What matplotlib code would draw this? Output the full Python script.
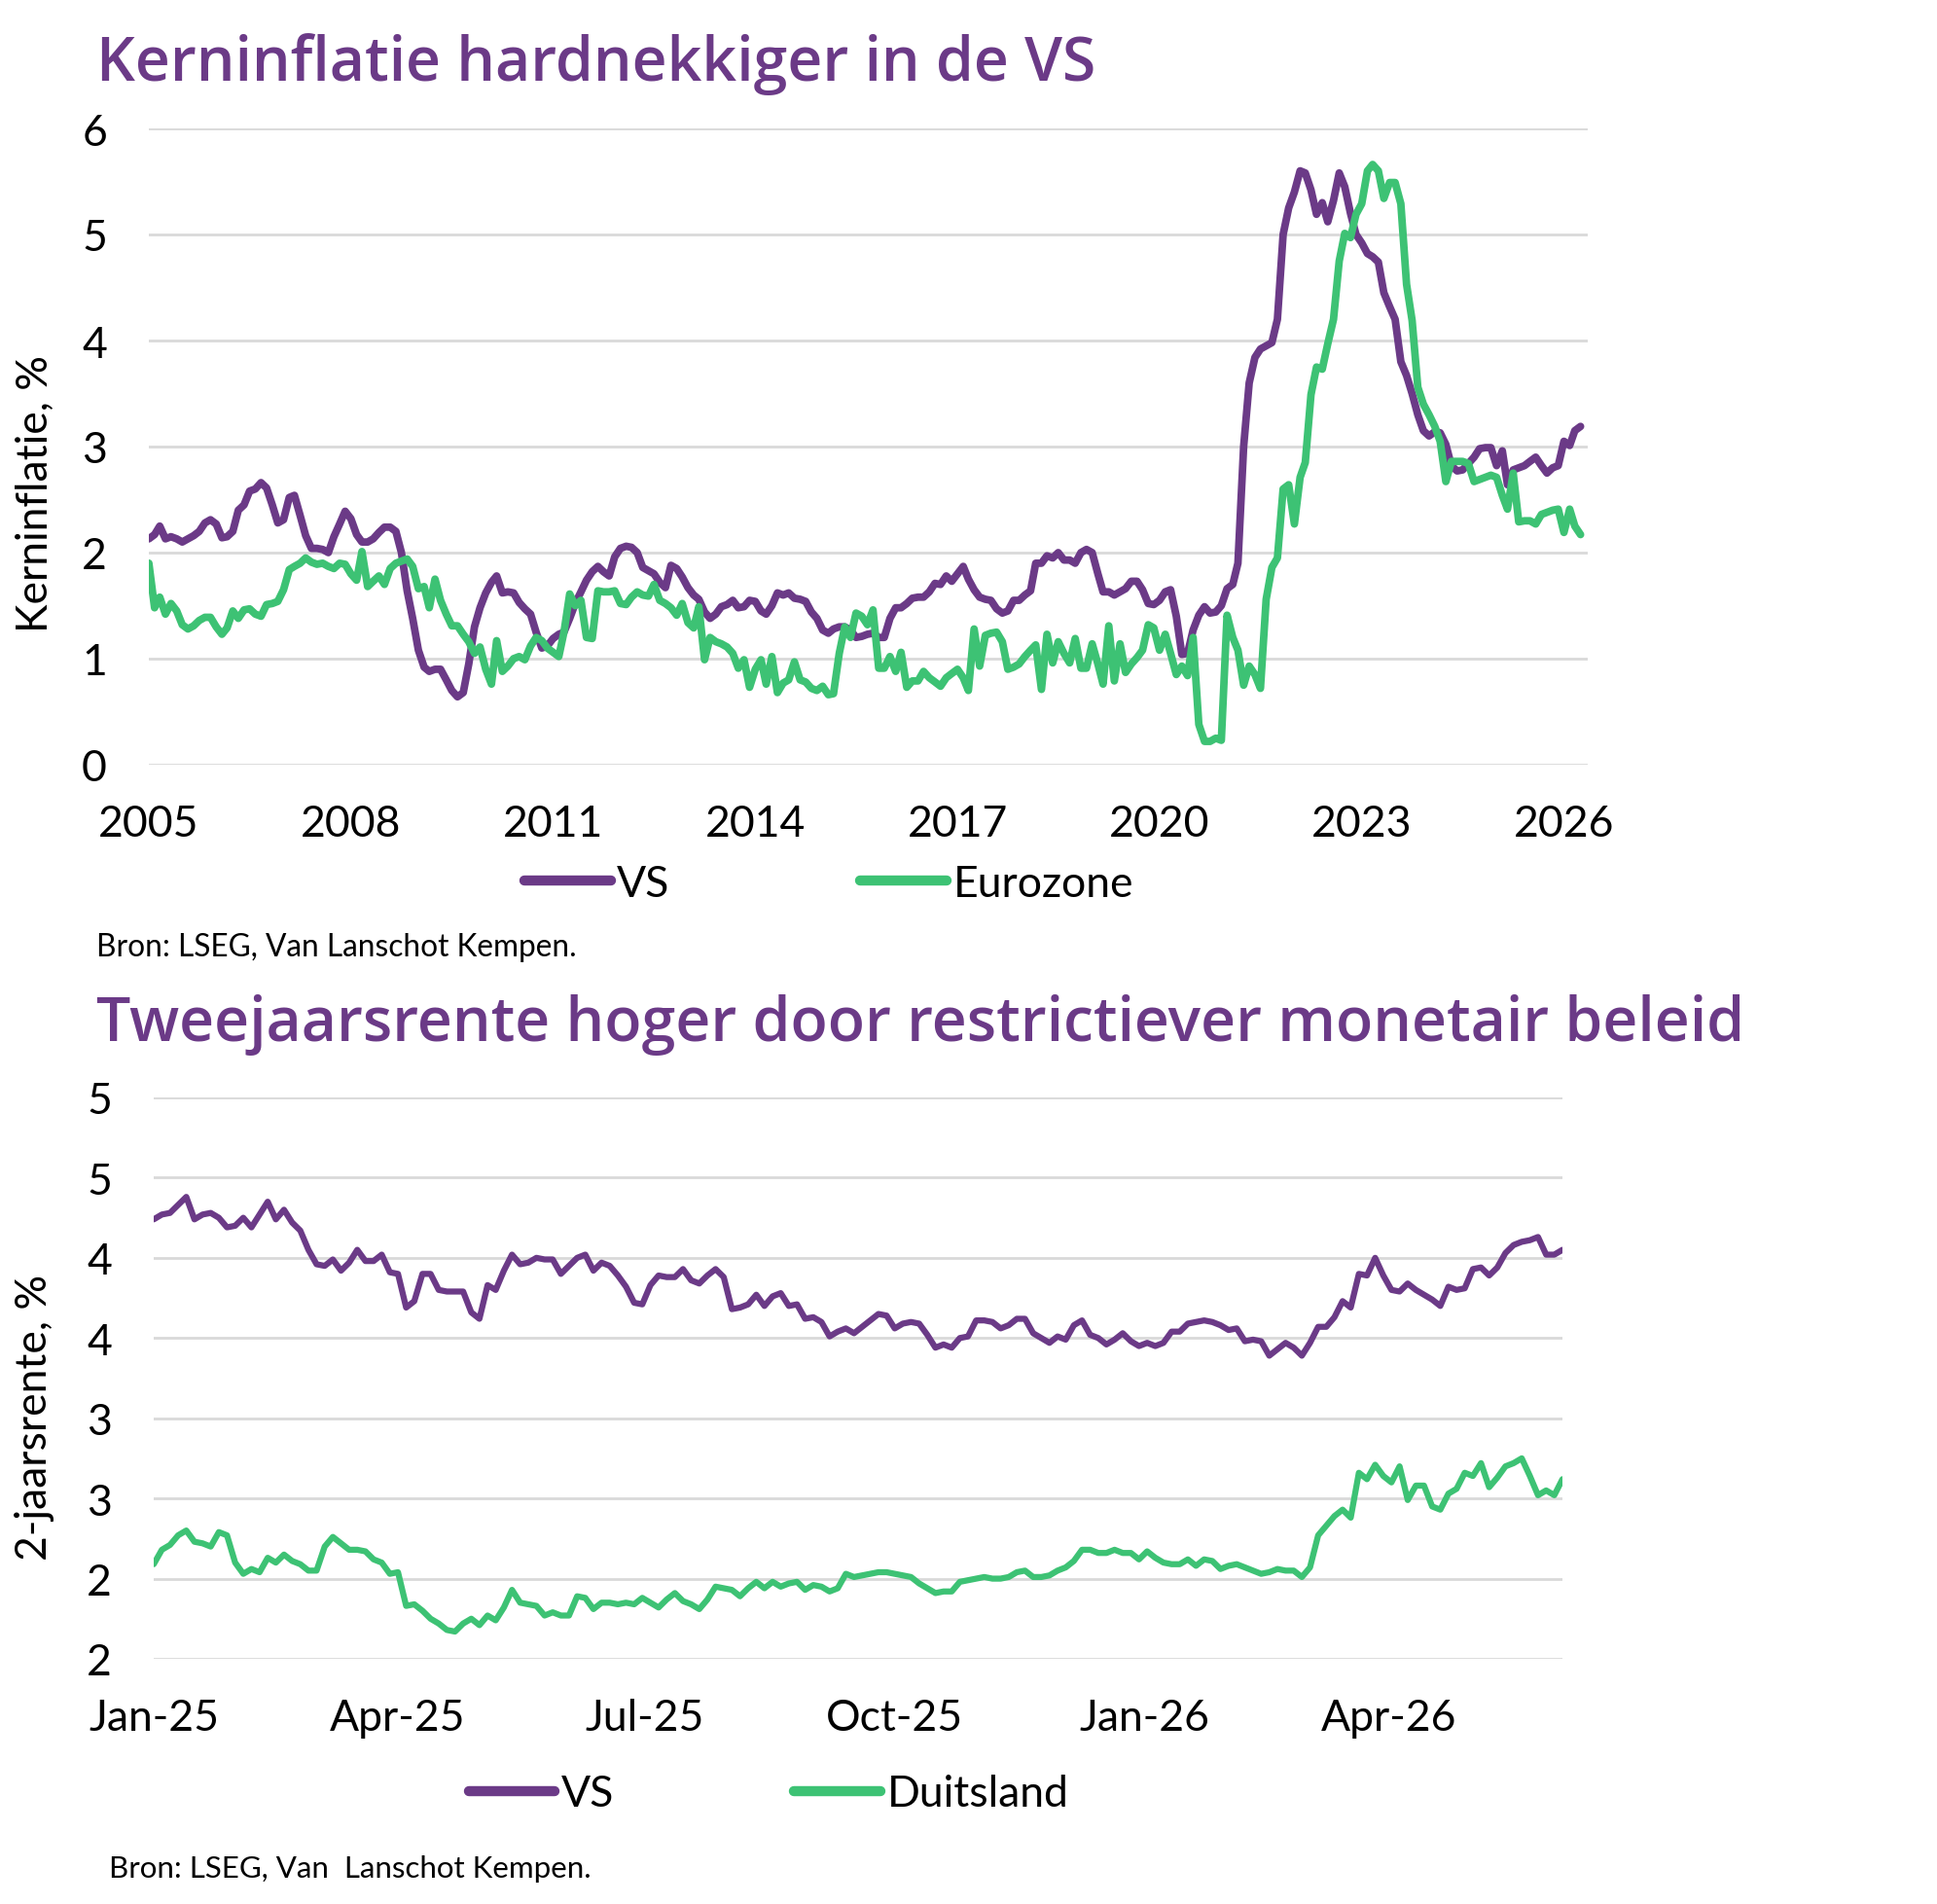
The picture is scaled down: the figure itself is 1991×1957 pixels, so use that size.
import matplotlib
matplotlib.use('Agg')
import matplotlib.pyplot as plt
from matplotlib.lines import Line2D
from matplotlib.ticker import FuncFormatter
import numpy as np
import pandas as pd

plt.rcParams['font.family'] = ['Lato', 'DejaVu Sans']

PAARS = '#6B3A87'
GROEN = '#3DC274'
GRIJS = '#D9D9D9'

#%% kerninflatie, maandelijks vanaf jan 2005 (%)
kern_vs = [
    2.13, 2.17, 2.25, 2.13, 2.15, 2.13, 2.10, 2.13, 2.16, 2.20, 2.28, 2.31, 2.27, 2.14, 2.15, 2.20,
    2.40, 2.45, 2.58, 2.60, 2.66, 2.61, 2.45, 2.28, 2.31, 2.52, 2.54, 2.35, 2.16, 2.04, 2.04, 2.03,
    2.00, 2.15, 2.27, 2.39, 2.32, 2.17, 2.10, 2.10, 2.13, 2.19, 2.24, 2.24, 2.20, 2.00, 1.64, 1.38,
    1.08, 0.92, 0.88, 0.90, 0.90, 0.80, 0.70, 0.64, 0.68, 0.95, 1.30, 1.48, 1.62, 1.72, 1.78, 1.62,
    1.63, 1.62, 1.53, 1.47, 1.42, 1.25, 1.10, 1.12, 1.19, 1.23, 1.25, 1.38, 1.52, 1.63, 1.74, 1.82,
    1.87, 1.82, 1.78, 1.96, 2.04, 2.06, 2.05, 2.00, 1.86, 1.83, 1.80, 1.72, 1.67, 1.88, 1.85, 1.77,
    1.67, 1.60, 1.56, 1.44, 1.38, 1.42, 1.49, 1.51, 1.55, 1.48, 1.49, 1.55, 1.54, 1.45, 1.42, 1.50,
    1.62, 1.60, 1.62, 1.57, 1.56, 1.54, 1.44, 1.38, 1.27, 1.24, 1.28, 1.30, 1.30, 1.27,
    1.20, 1.21, 1.23, 1.24, 1.20, 1.20, 1.38, 1.48, 1.48, 1.52, 1.57, 1.58, 1.58, 1.63, 1.71, 1.70,
    1.78, 1.73, 1.80, 1.87, 1.75, 1.65, 1.58, 1.56, 1.55, 1.47, 1.43, 1.45, 1.55, 1.55, 1.60, 1.64,
    1.90, 1.90, 1.97, 1.95, 2.00, 1.93, 1.93, 1.90, 2.00, 2.03, 2.00, 1.80, 1.63, 1.63, 1.60, 1.63,
    1.66, 1.73, 1.73, 1.65, 1.52, 1.51, 1.55, 1.63, 1.65, 1.40, 1.04, 1.05, 1.27, 1.41, 1.49,
    1.43, 1.44, 1.50, 1.66, 1.70, 1.90, 3.00, 3.60, 3.84, 3.92, 3.95, 3.98, 4.20, 5.00, 5.25, 5.40,
    5.60, 5.58, 5.42, 5.19, 5.30, 5.12, 5.32, 5.58, 5.45, 5.20, 5.00, 4.92, 4.82, 4.79, 4.74, 4.45,
    4.32, 4.20, 3.80, 3.67, 3.50, 3.30, 3.15, 3.10, 3.14, 3.13, 3.02, 2.82, 2.77, 2.78, 2.84, 2.90,
    2.98, 2.99, 2.99, 2.82, 2.96, 2.64, 2.78, 2.80, 2.82, 2.86, 2.90, 2.82, 2.75, 2.80, 2.82, 3.05,
    3.01, 3.15, 3.19,
]
kern_ez = [
    1.90, 1.48, 1.58, 1.42, 1.52, 1.45, 1.32, 1.28, 1.31, 1.36, 1.39, 1.39, 1.30, 1.23, 1.29, 1.45,
    1.38, 1.46, 1.47, 1.42, 1.40, 1.51, 1.52, 1.54, 1.65, 1.84, 1.87, 1.90, 1.95, 1.91, 1.89, 1.90,
    1.87, 1.85, 1.90, 1.89, 1.80, 1.74, 2.01, 1.68, 1.73, 1.78, 1.70, 1.85, 1.90, 1.92, 1.94, 1.87,
    1.66, 1.68, 1.48, 1.75, 1.55, 1.42, 1.31, 1.31, 1.23, 1.16, 1.05, 1.11, 0.90, 0.76, 1.17, 0.88,
    0.93, 1.00, 1.02, 0.99, 1.12, 1.20, 1.17, 1.10, 1.06, 1.02, 1.25, 1.61, 1.50, 1.55, 1.20, 1.19,
    1.64, 1.63, 1.63, 1.64, 1.52, 1.51, 1.58, 1.63, 1.60, 1.59, 1.70, 1.55, 1.52, 1.48, 1.41, 1.52,
    1.34, 1.29, 1.49, 0.99, 1.20, 1.16, 1.14, 1.11, 1.05, 0.91, 0.99, 0.73, 0.90, 0.99, 0.76, 1.02,
    0.68, 0.77, 0.80, 0.97, 0.80, 0.78, 0.72, 0.70, 0.74, 0.66,
    0.67, 1.05, 1.30, 1.20, 1.43, 1.40, 1.32, 1.46, 0.91, 0.91, 1.02, 0.88, 1.06, 0.73, 0.79, 0.79,
    0.88, 0.82, 0.78, 0.74, 0.82, 0.86, 0.90, 0.82, 0.70, 1.28, 0.93, 1.22, 1.24, 1.25, 1.16, 0.90,
    0.92, 0.95, 1.02, 1.08, 1.13, 0.71, 1.23, 0.96, 1.16, 1.05, 0.96, 1.19, 0.91, 0.91, 1.14, 0.95,
    0.76, 1.31, 0.79, 1.14, 0.87, 0.95, 1.01, 1.08, 1.32, 1.29, 1.08, 1.23, 1.05, 0.85, 0.93, 0.84,
    1.20, 0.38, 0.22,
    0.22, 0.25, 0.23, 1.41, 1.20, 1.08, 0.75, 0.93, 0.85, 0.72, 1.56, 1.86, 1.95, 2.60, 2.64, 2.27,
    2.71, 2.85, 3.49, 3.75, 3.73, 3.97, 4.20, 4.75, 5.01, 4.97, 5.19, 5.29, 5.60, 5.66, 5.60, 5.34,
    5.49, 5.49, 5.29, 4.53, 4.19, 3.56, 3.40, 3.30, 3.19, 3.05, 2.67, 2.86, 2.86, 2.86, 2.84, 2.67,
    2.69, 2.71, 2.73, 2.71, 2.54, 2.41, 2.75, 2.29, 2.30, 2.30, 2.27, 2.36, 2.38, 2.40, 2.41, 2.19,
    2.41, 2.25, 2.17,
]
jaar_ticks = [2005, 2008, 2011, 2014, 2017, 2020, 2023, 2026]

#%% tweejaarsrente, elke 3 dagen vanaf 1 jan 2025 (%)
rente_vs = [
    4.24, 4.27, 4.28, 4.33, 4.38, 4.24, 4.27, 4.28, 4.25, 4.19,
    4.20, 4.25, 4.19, 4.27, 4.35, 4.24, 4.30, 4.22, 4.17, 4.05,
    3.96, 3.95, 3.99, 3.92, 3.97, 4.05, 3.98, 3.98, 4.02, 3.91,
    3.90, 3.69, 3.73, 3.90, 3.90, 3.80, 3.79, 3.79, 3.79, 3.66,
    3.62, 3.83, 3.80, 3.92, 4.02, 3.96, 3.97, 4.00, 3.99, 3.99,
    3.90, 3.95, 4.00, 4.02, 3.92, 3.97, 3.95, 3.89, 3.82, 3.72,
    3.71, 3.83, 3.89, 3.88, 3.88, 3.93, 3.86, 3.84, 3.89, 3.93,
    3.88, 3.68, 3.69, 3.71, 3.77, 3.70, 3.76, 3.78, 3.70, 3.71,
    3.62, 3.63, 3.60, 3.51, 3.54, 3.56, 3.53, 3.57, 3.61, 3.65,
    3.64, 3.56, 3.59, 3.60, 3.59, 3.52, 3.44, 3.46, 3.44, 3.50,
    3.51, 3.61, 3.61, 3.60, 3.56, 3.58, 3.62, 3.62, 3.53, 3.50,
    3.47, 3.51, 3.49, 3.58, 3.61, 3.52, 3.50, 3.46, 3.49, 3.53,
    3.48, 3.45, 3.47, 3.45, 3.47, 3.54, 3.54, 3.59, 3.60, 3.61,
    3.60, 3.58, 3.55, 3.56, 3.48, 3.49, 3.48, 3.39, 3.43, 3.47,
    3.44, 3.39, 3.47, 3.57, 3.57, 3.63, 3.73, 3.69, 3.90, 3.89,
    4.00, 3.89, 3.80, 3.79, 3.84, 3.80, 3.77, 3.74, 3.70, 3.82,
    3.80, 3.81, 3.93, 3.94, 3.89, 3.94, 4.03, 4.08, 4.10, 4.11,
    4.13, 4.02, 4.02, 4.05,
]
rente_de = [
    2.09, 2.18, 2.21, 2.27, 2.30, 2.23, 2.22, 2.20, 2.29, 2.27,
    2.10, 2.03, 2.06, 2.04, 2.13, 2.10, 2.15, 2.11, 2.09, 2.05,
    2.05, 2.20, 2.26, 2.22, 2.18, 2.18, 2.17, 2.12, 2.10, 2.03,
    2.04, 1.83, 1.84, 1.80, 1.75, 1.72, 1.68, 1.67, 1.72, 1.75,
    1.71, 1.77, 1.74, 1.82, 1.93, 1.85, 1.84, 1.83, 1.77, 1.79,
    1.77, 1.77, 1.89, 1.88, 1.81, 1.85, 1.85, 1.84, 1.85, 1.84,
    1.88, 1.85, 1.82, 1.87, 1.91, 1.86, 1.84, 1.81, 1.87, 1.95,
    1.94, 1.93, 1.89, 1.94, 1.98, 1.94, 1.98, 1.95, 1.97, 1.98,
    1.93, 1.96, 1.95, 1.92, 1.94, 2.03, 2.01, 2.02, 2.03, 2.04,
    2.04, 2.03, 2.02, 2.01, 1.97, 1.94, 1.91, 1.92, 1.92, 1.98,
    1.99, 2.00, 2.01, 2.00, 2.00, 2.01, 2.04, 2.05, 2.01, 2.01,
    2.02, 2.05, 2.07, 2.11, 2.18, 2.18, 2.16, 2.16, 2.18, 2.16,
    2.16, 2.12, 2.17, 2.13, 2.10, 2.09, 2.09, 2.12, 2.08, 2.12,
    2.11, 2.06, 2.08, 2.09, 2.07, 2.05, 2.03, 2.04, 2.06, 2.05,
    2.05, 2.01, 2.07, 2.27, 2.33, 2.39, 2.43, 2.38, 2.66, 2.62,
    2.71, 2.64, 2.60, 2.70, 2.49, 2.58, 2.58, 2.45, 2.43, 2.53,
    2.56, 2.66, 2.64, 2.72, 2.57, 2.63, 2.70, 2.72, 2.75, 2.64,
    2.52, 2.55, 2.52, 2.62,
]
kwartaal_ticks = ['2025-01-01', '2025-04-01', '2025-07-01', '2025-10-01', '2026-01-01', '2026-04-01']
kwartaal_labels = ['Jan-25', 'Apr-25', 'Jul-25', 'Oct-25', 'Jan-26', 'Apr-26']

maanden = pd.date_range('2005-01-01', periods=len(kern_vs), freq='MS')
dagen = pd.date_range('2025-01-01', periods=len(rente_vs), freq='3D')

W, H = 1991, 1958
fig = plt.figure(figsize=(W / 100, H / 100), dpi=100)


def px(x0, y0, x1, y1):
    return [x0 / W, 1 - y1 / H, (x1 - x0) / W, (y1 - y0) / H]


def opmaak(ax):
    for s in ax.spines.values():
        s.set_visible(False)
    ax.grid(axis='y', color=GRIJS, lw=2)
    ax.set_axisbelow(True)
    ax.tick_params(axis='both', length=0, labelsize=32)
    ax.tick_params(axis='y', pad=31)
    ax.tick_params(axis='x', pad=29)


lijn = dict(solid_joinstyle='round', solid_capstyle='round')

# bovenste grafiek
ax1 = fig.add_axes(px(153, 133, 1632, 787))
opmaak(ax1)
ax1.plot(maanden, kern_vs, color=PAARS, lw=5.6, **lijn)
ax1.plot(maanden, kern_ez, color=GROEN, lw=5.6, **lijn)
ax1.set_ylim(0, 6)
ax1.set_yticks(range(0, 7))
ax1.set_xlim(pd.Timestamp('2005-01-01'), pd.Timestamp('2026-05-10'))
ax1.set_xticks([pd.Timestamp(f'{j}-01-01') for j in jaar_ticks])
ax1.set_xticklabels([str(j) for j in jaar_ticks])

# onderste grafiek
ax2 = fig.add_axes(px(158, 1129, 1606, 1706))
opmaak(ax2)
ax2.plot(dagen, rente_vs, color=PAARS, lw=4.5, **lijn)
ax2.plot(dagen, rente_de, color=GROEN, lw=4.5, **lijn)
ax2.set_ylim(1.5, 5.0)
ax2.set_yticks(np.arange(1.5, 5.01, 0.5))
ax2.yaxis.set_major_formatter(FuncFormatter(lambda v, p: str(int(np.floor(v + 0.5 + 1e-9)))))
ax2.set_xlim(dagen[0], dagen[-1])
ax2.set_xticks([pd.Timestamp(t) for t in kwartaal_ticks])
ax2.set_xticklabels(kwartaal_labels)

# titels en teksten
titel = dict(fontsize=45, color=PAARS, family=['Open Sans', 'DejaVu Sans'], fontweight='semibold', va='baseline')
fig.text(99 / W, 1 - 83 / H, 'Kerninflatie hardnekkiger in de VS', **titel)
fig.text(99 / W, 1 - 1070 / H, 'Tweejaarsrente hoger door restrictiever monetair beleid', **titel)

fig.text(36 / W, 1 - 508 / H, 'Kerninflatie, %', rotation=90, fontsize=32, ha='center', va='center')
fig.text(36 / W, 1 - 1457 / H, '2-jaarsrente, %', rotation=90, fontsize=32, ha='center', va='center')

fig.text(99 / W, 1 - 983 / H, 'Bron: LSEG, Van Lanschot Kempen.', fontsize=22.8, va='baseline')
fig.text(112 / W, 1 - 1930 / H, 'Bron: LSEG, Van  Lanschot Kempen.', fontsize=22.5, va='baseline')

leg_stijl = dict(loc='center', ncol=2, frameon=False, fontsize=32, handlelength=2.0,
                 handletextpad=0.15, borderpad=0, borderaxespad=0)
h_vs = Line2D([], [], color=PAARS, lw=7.5, solid_capstyle='round')
h_ez = Line2D([], [], color=GROEN, lw=7.5, solid_capstyle='round')
fig.legend([h_vs, h_ez], ['VS', 'Eurozone'], bbox_to_anchor=(852 / W, 1 - 909 / H),
           columnspacing=4.4, **leg_stijl)
fig.legend([h_vs, h_ez], ['VS', 'Duitsland'], bbox_to_anchor=(790 / W, 1 - 1845 / H),
           columnspacing=4.15, **leg_stijl)

fig.savefig('out.png', dpi=100)
